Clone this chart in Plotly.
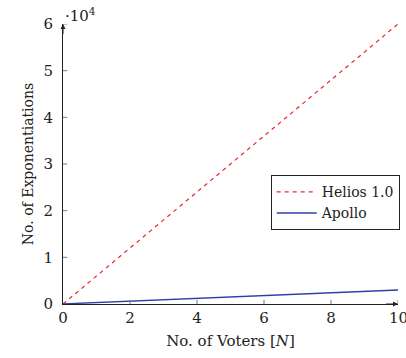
import plotly.graph_objects as go

voters = [0, 10]
helios = [0, 60000]
apollo = [0, 3000]
x_ticks = [0, 2, 4, 6, 8, 10]
y_ticks = [0, 10000, 20000, 30000, 40000, 50000, 60000]
y_tick_text = ["0", "1", "2", "3", "4", "5", "6"]

FONT = "DejaVu Serif"

fig = go.Figure()
fig.add_trace(go.Scatter(x=voters, y=helios, mode="lines", name="Helios 1.0",
                         line=dict(color="#e8262a", width=1.2, dash="4px,4px")))
fig.add_trace(go.Scatter(x=voters, y=apollo, mode="lines", name="Apollo",
                         line=dict(color="#2f3fa8", width=1.3)))
# crossing tick marks
fig.add_trace(go.Scatter(x=x_ticks[1:], y=[0]*(len(x_ticks)-1), mode="markers", showlegend=False,
                         hoverinfo="skip",
                         marker=dict(symbol="line-ns-open", size=6, color="#777",
                                     line=dict(color="#777", width=1))))
fig.add_trace(go.Scatter(x=[0]*(len(y_ticks)-1), y=y_ticks[1:], mode="markers", showlegend=False,
                         hoverinfo="skip",
                         marker=dict(symbol="line-ew-open", size=6, color="#777",
                                     line=dict(color="#777", width=1))))

fig.update_layout(
    width=406, height=358,
    margin=dict(l=63, r=6, t=24, b=54),
    paper_bgcolor="white", plot_bgcolor="white",
    font=dict(family=FONT, size=14, color="#222"),
    xaxis=dict(range=[0, 10], tickvals=x_ticks[:-1], ticks="", showgrid=False, zeroline=False,
               showline=True, linecolor="#222", linewidth=1,
               tickfont=dict(size=15),
               title=dict(text="No. of Voters [<i>N</i>]", font=dict(size=15), standoff=9)),
    yaxis=dict(range=[0, 60000], tickvals=y_ticks, ticktext=y_tick_text, ticks="",
               showgrid=False, zeroline=False, showline=True, linecolor="#222", linewidth=1,
               tickfont=dict(size=15), ticklabelstandoff=6,
               title=dict(text="No. of Exponentiations", font=dict(size=14), standoff=6)),
    legend=dict(x=0.62, y=0.46, xanchor="left", yanchor="top",
                bordercolor="#222", borderwidth=1, bgcolor="white",
                font=dict(size=14), itemwidth=40, tracegroupgap=0),
    showlegend=True,
)

fig.add_annotation(x=10, y=0, xref="x", yref="y", xanchor="center", yanchor="top",
                   yshift=-3, showarrow=False, text=str(x_ticks[-1]), font=dict(size=15))
fig.add_annotation(x=10, y=0, ax=9.6, ay=0, xref="x", yref="y", axref="x", ayref="y",
                   showarrow=True, arrowhead=2, arrowsize=1, arrowwidth=1, arrowcolor="#222", text="")
fig.add_annotation(x=0, y=60000, ax=0, ay=57500, xref="x", yref="y", axref="x", ayref="y",
                   showarrow=True, arrowhead=2, arrowsize=1, arrowwidth=1, arrowcolor="#222", text="")
fig.add_annotation(x=0, y=60000, xref="x", yref="y", xanchor="left", yanchor="bottom",
                   xshift=0, yshift=-3, showarrow=False,
                   text="·10<sup>4</sup>", font=dict(size=15))

fig.write_html("out.html")
